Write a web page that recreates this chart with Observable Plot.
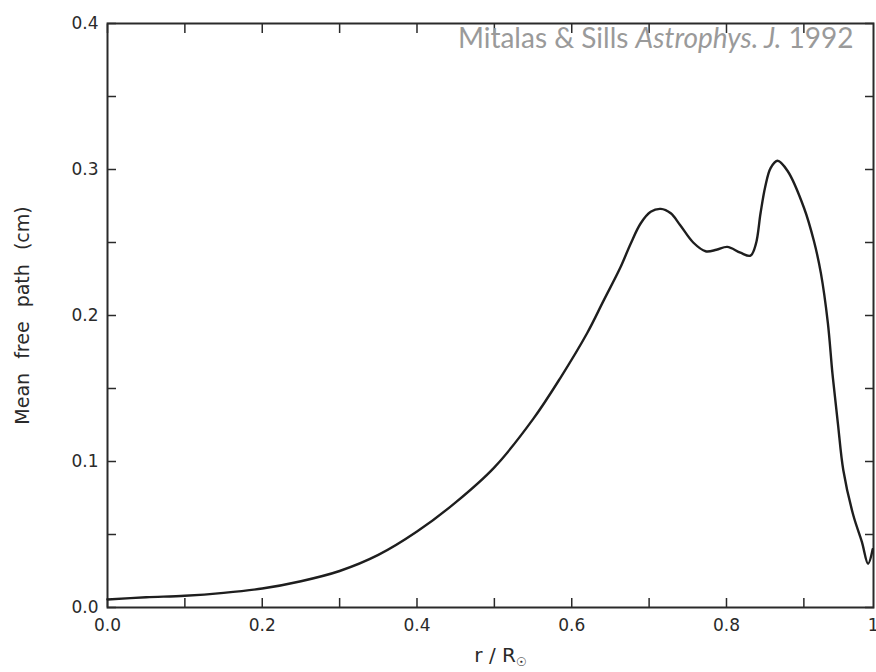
<!DOCTYPE html>
<html>
<head>
<meta charset="utf-8">
<script src="https://cdn.jsdelivr.net/npm/d3@7"></script>
<script src="https://cdn.jsdelivr.net/npm/@observablehq/plot@0.6"></script>
<style>
  html, body { margin: 0; padding: 0; background: #fff; overflow: hidden; }
  #chart svg { display: block; }
</style>
</head>
<body>
<div id="chart"></div>
<script>
// r / R_sun
const radius = [0, 0.05, 0.1, 0.15, 0.2, 0.25, 0.3, 0.35, 0.4, 0.45, 0.5, 0.55, 0.585, 0.62, 0.641, 0.663, 0.676, 0.689, 0.702, 0.715, 0.728, 0.74, 0.757, 0.773, 0.787, 0.801, 0.818, 0.831, 0.838, 0.844, 0.85, 0.857, 0.866, 0.879, 0.9, 0.913, 0.922, 0.931, 0.937, 0.944, 0.951, 0.964, 0.975, 0.983, 0.989];
// mean free path (cm)
const meanFreePath = [0.0055, 0.007, 0.008, 0.010, 0.013, 0.018, 0.025, 0.036, 0.052, 0.072, 0.096, 0.129, 0.157, 0.188, 0.210, 0.233, 0.249, 0.263, 0.271, 0.273, 0.270, 0.262, 0.250, 0.244, 0.245, 0.247, 0.243, 0.241, 0.249, 0.270, 0.288, 0.301, 0.306, 0.299, 0.274, 0.251, 0.229, 0.195, 0.160, 0.126, 0.094, 0.063, 0.045, 0.030, 0.040];

const xTickLabels = [0, 0.2, 0.4, 0.6, 0.8, 1.0];
const xTickMarks = [0, 0.1, 0.2, 0.3, 0.4, 0.5, 0.6, 0.7, 0.8, 0.9, 1.0];
const yTickLabels = [0, 0.1, 0.2, 0.3, 0.4];
const yTickMarks = [0, 0.05, 0.1, 0.15, 0.2, 0.25, 0.3, 0.35, 0.4];
const xLabel = "r / R☉";
const yLabel = "Mean free path (cm)";
const credit = ["Mitalas & Sills ", "Astrophys. J.", " 1992"];

const data = radius.map((r, i) => ({r, mfp: meanFreePath[i]}));
const fmt = d3.format(".1f");
const ink = "#2a2a2a";

const chart = Plot.plot({
  width: 876,
  height: 672,
  marginLeft: 107,
  marginRight: 3,
  marginTop: 23,
  marginBottom: 65,
  style: {fontFamily: "DejaVu Sans", fontSize: "17px", color: ink, background: "#fff"},
  x: {domain: [0, 0.99]},
  y: {domain: [0, 0.4]},
  marks: [
    // inward tick marks on all four sides
    Plot.axisX(xTickMarks, {anchor: "bottom", tickSize: -9, tickFormat: () => "", label: null, stroke: ink, strokeWidth: 1.5}),
    Plot.axisX(xTickMarks, {anchor: "top", tickSize: -9, tickFormat: () => "", label: null, stroke: ink, strokeWidth: 1.5}),
    Plot.axisY(yTickMarks, {anchor: "left", tickSize: -9, tickFormat: () => "", label: null, stroke: ink, strokeWidth: 1.5}),
    Plot.axisY(yTickMarks, {anchor: "right", tickSize: -9, tickFormat: () => "", label: null, stroke: ink, strokeWidth: 1.5}),
    // tick labels + axis titles
    Plot.axisX(xTickLabels, {anchor: "bottom", tickSize: 0, tickPadding: 11, tickFormat: fmt,
      label: xLabel, labelAnchor: "center", labelOffset: 54, labelArrow: "none", fill: ink}),
    Plot.axisY(yTickLabels, {anchor: "left", tickSize: 0, tickPadding: 9, tickFormat: fmt,
      label: yLabel, labelAnchor: "center", labelOffset: 92, labelArrow: "none", fill: ink}),
    Plot.frame({stroke: ink, strokeWidth: 2}),
    Plot.line(data, {x: "r", y: "mfp", curve: "catmull-rom", stroke: "#1e1e1e", strokeWidth: 2.4}),
    Plot.text([credit.join("")], {frameAnchor: "top-right", dx: -20, dy: 5, lineAnchor: "top",
      fontFamily: "Lato", fontSize: 28, fill: "#9a9a9a"})
  ]
});

// typographic touches: subscript sun symbol, italic journal name, wide word spacing on y title
chart.querySelectorAll("text").forEach(t => {
  const s = t.textContent;
  if (s === xLabel) {
    t.textContent = "";
    const a = document.createElementNS("http://www.w3.org/2000/svg", "tspan");
    a.textContent = "r / R";
    const b = document.createElementNS("http://www.w3.org/2000/svg", "tspan");
    b.textContent = "☉";
    b.setAttribute("font-size", "12");
    b.setAttribute("dy", "4");
    t.appendChild(a); t.appendChild(b);
    t.setAttribute("font-size", "20");
    t.setAttribute("dx", "10");
  } else if (s === yLabel) {
    t.setAttribute("font-size", "19");
    t.setAttribute("word-spacing", "8");
  } else if (s === credit.join("")) {
    t.textContent = "";
    credit.forEach((part, i) => {
      const sp = document.createElementNS("http://www.w3.org/2000/svg", "tspan");
      sp.textContent = part;
      if (i === 1) sp.setAttribute("font-style", "italic");
      t.appendChild(sp);
    });
  }
});

document.getElementById("chart").appendChild(chart);
</script>
</body>
</html>
